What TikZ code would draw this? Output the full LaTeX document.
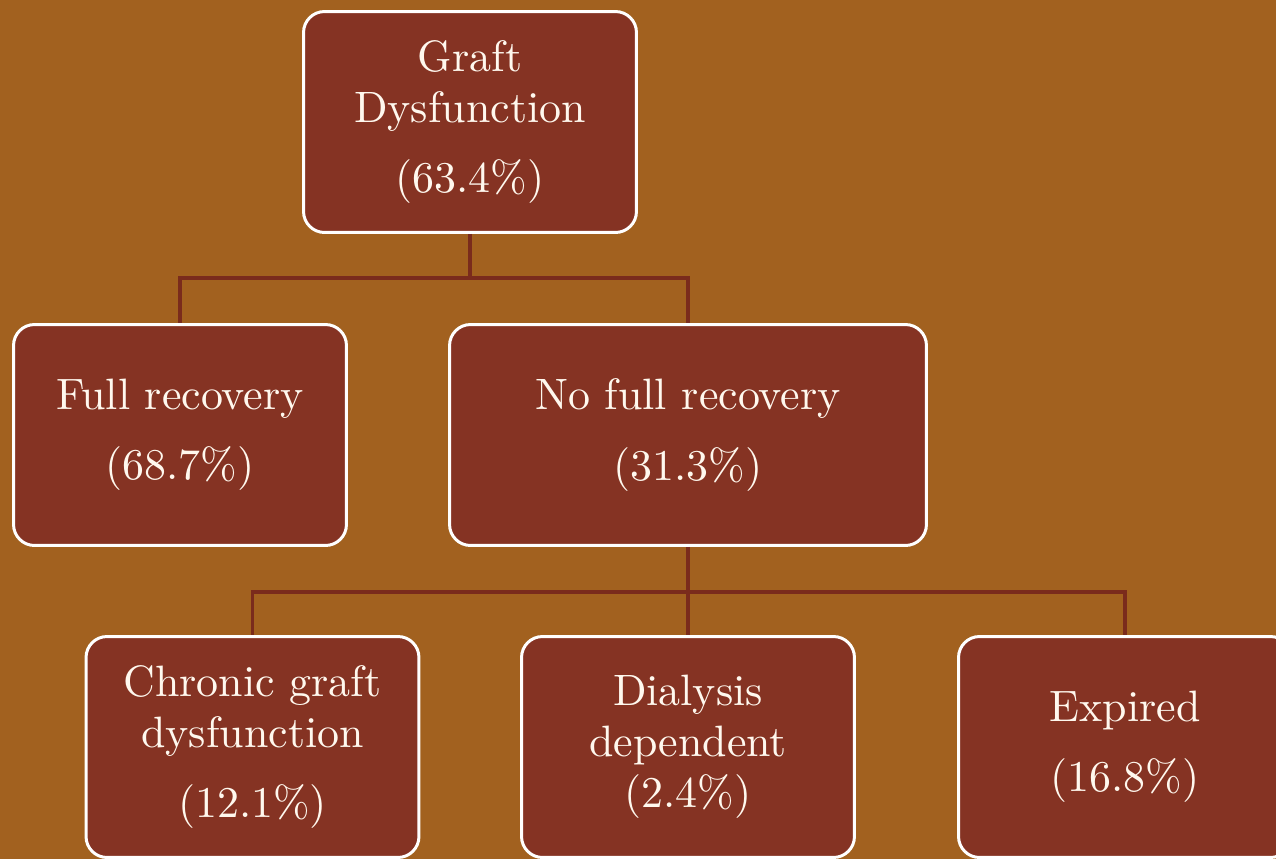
\documentclass[tikz,border=0pt]{standalone}
\usepackage{fontspec}
\setmainfont{lmroman10-regular.otf}
\definecolor{bgc}{HTML}{A2611F}
\definecolor{boxc}{HTML}{853323}
\definecolor{linec}{HTML}{7A2B1C}
\definecolor{txtc}{HTML}{FFF8EE}
\begin{document}
\begin{tikzpicture}[x=0.02cm,y=-0.02cm,
  box/.style={draw=white, line width=1.7pt, fill=boxc, rounded corners=0.42cm,
    minimum width=6.66cm, minimum height=4.42cm, align=center, inner sep=0pt,
    text=txtc, font=\fontsize{25}{29}\selectfont},
  conn/.style={draw=linec, line width=1.8pt}]
\fill[bgc] (0,0) rectangle (1276,859);
\useasboundingbox (0,0) rectangle (1276,859);
\node[box] (b1) at (470,122) {Graft\\Dysfunction\\[11pt](63.4\%)};
\node[box] (b2) at (180,435) {Full recovery\\[11pt](68.7\%)};
\node[box, minimum width=9.54cm] (b3) at (688,435) {No full recovery\\[11pt](31.3\%)};
\node[box] (b4) at (252.5,747) {Chronic graft\\dysfunction\\[11pt](12.1\%)};
\node[box] (b5) at (688,747) {Dialysis\\dependent\\(2.4\%)};
\node[box] (b6) at (1125,747) {Expired\\[11pt](16.8\%)};
\coordinate (j1) at (470,278);
\coordinate (j2) at (688,592);
\draw[conn] (b1.south) -- (j1);
\draw[conn] (j1) -| (b2.north);
\draw[conn] (j1) -| (b3.north);
\draw[conn] (b3.south) -- (j2);
\draw[conn] (j2) -| (b4.north);
\draw[conn] (j2) -- (b5.north);
\draw[conn] (j2) -| (b6.north);
\end{tikzpicture}
\end{document}
